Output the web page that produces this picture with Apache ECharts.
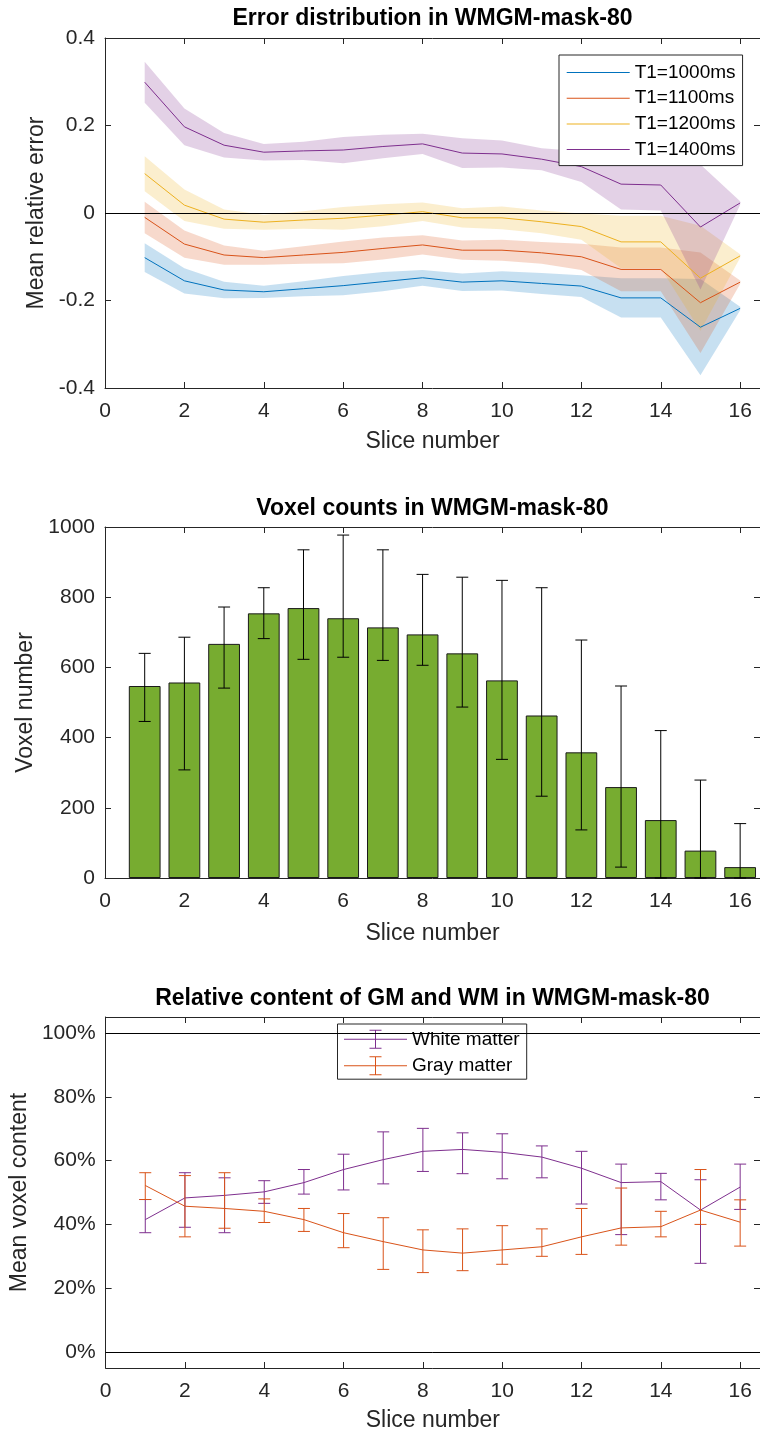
<!DOCTYPE html>
<html><head><meta charset="utf-8">
<script src="https://cdn.jsdelivr.net/npm/echarts@6/dist/echarts.min.js"></script>
<style>html,body{margin:0;padding:0;background:#fff}#c{width:760px;height:1436px}</style>
</head><body><div id="c"></div>
<script>
// ---------- shared ----------
const slices = [1,2,3,4,5,6,7,8,9,10,11,12,13,14,15,16];
const xTicks = [0,2,4,6,8,10,12,14,16];

// ---------- plot 1: error distribution ----------
const t1Names = ['T1=1000ms','T1=1100ms','T1=1200ms','T1=1400ms'];
const err1000 = [-0.102,-0.155,-0.176,-0.180,-0.173,-0.166,-0.157,-0.148,-0.158,-0.155,-0.161,-0.167,-0.194,-0.194,-0.261,-0.218];
const sd1000  = [0.033,0.029,0.019,0.014,0.017,0.022,0.022,0.018,0.020,0.022,0.024,0.025,0.045,0.045,0.110,0.004];
const err1100 = [-0.010,-0.071,-0.096,-0.102,-0.096,-0.090,-0.081,-0.073,-0.085,-0.085,-0.091,-0.100,-0.129,-0.129,-0.205,-0.158];
const sd1100  = [0.036,0.031,0.022,0.016,0.020,0.025,0.025,0.022,0.022,0.024,0.025,0.030,0.050,0.050,0.115,0.004];
const err1200 = [0.090,0.018,-0.014,-0.021,-0.016,-0.012,-0.005,0.003,-0.011,-0.011,-0.020,-0.031,-0.066,-0.066,-0.149,-0.098];
const sd1200  = [0.040,0.036,0.022,0.017,0.020,0.026,0.025,0.021,0.022,0.026,0.026,0.030,0.060,0.060,0.120,0.004];
const err1400 = [0.299,0.197,0.155,0.139,0.142,0.144,0.152,0.158,0.137,0.135,0.123,0.106,0.066,0.064,-0.032,0.023];
const sd1400  = [0.047,0.042,0.028,0.019,0.021,0.030,0.027,0.023,0.034,0.031,0.025,0.035,0.058,0.058,0.143,0.004];
const errTicks = [-0.4,-0.2,0,0.2,0.4];

// ---------- plot 2: voxel counts ----------
const voxelMean  = [547,557,667,754,769,740,714,694,640,563,463,358,259,165,78,31];
const voxelUpper = [640,686,772,827,935,977,935,865,857,848,827,678,547,420,279,155];
const voxelLower = [446,308,541,682,623,629,620,606,487,338,233,137,31,0,0,0];
const voxelTicks = [0,200,400,600,800,1000];

// ---------- plot 3: relative content (percent) ----------
const matterNames = ['White matter','Gray matter'];
const wmMean  = [41.5,48.3,49.1,50.2,53.1,57.2,60.3,62.9,63.5,62.6,61.1,57.6,53.1,53.4,44.5,51.7];
const wmUpper = [47.8,56.2,54.6,53.7,57.2,62.0,69.0,70.1,68.7,68.4,64.6,62.9,58.9,56.0,54.0,58.9];
const wmLower = [37.4,39.1,37.4,46.6,49.5,50.8,52.7,56.6,55.9,54.3,54.6,46.4,36.8,47.7,27.8,44.7];
const gmMean  = [52.2,45.7,45.0,44.1,41.5,37.4,34.6,32.0,31.0,32.0,33.0,36.1,38.9,39.3,44.5,40.7];
const gmUpper = [56.2,55.3,56.2,48.0,45.0,43.4,42.1,38.3,38.6,39.6,38.6,45.0,51.4,44.1,57.2,47.7];
const gmLower = [47.8,36.1,38.8,40.6,37.8,32.7,25.9,24.9,25.5,27.5,30.0,30.6,33.5,36.1,40.0,33.2];
const pctTicks = [0,20,40,60,80,100];

// ---------- styling ----------
const FONT = '"Liberation Sans", Arial, Helvetica, sans-serif';
const AX = '#262626';
const C = {blue:'#0072BD', orange:'#D95319', yellow:'#EDB120', purple:'#7E2F8E', green:'#77AC30'};
const GL = 105, GW = 655, XMAX = 16.5;
const gridDefs = [
  {left:GL, top:38, width:GW, height:350},
  {left:GL, top:527, width:GW, height:351},
  {left:GL, top:1017, width:GW, height:351}
];

function xAxesFor(gi, nameGap) {
  const common = {type:'value', gridIndex:gi, min:0, max:XMAX, splitLine:{show:false},
    axisLine:{show:true, onZero:false, lineStyle:{color:AX, width:1}},
    axisTick:{show:true, inside:true, length:6, customValues:xTicks, lineStyle:{color:AX, width:1}}};
  return [
    Object.assign({}, common, {position:'bottom',
      axisLabel:{show:true, customValues:xTicks, margin:13, color:AX, fontSize:21, fontFamily:FONT},
      name:'Slice number', nameLocation:'middle', nameGap:nameGap,
      nameTextStyle:{color:AX, fontSize:23, fontFamily:FONT}}),
    Object.assign({}, common, {position:'top', axisLabel:{show:false}})
  ];
}
function yAxesFor(gi, min, max, ticks, fmt, name, nameGap) {
  const common = {type:'value', gridIndex:gi, min:min, max:max, splitLine:{show:false},
    axisLine:{show:true, onZero:false, lineStyle:{color:AX, width:1}},
    axisTick:{show:true, inside:true, length:6, customValues:ticks, lineStyle:{color:AX, width:1}}};
  return [
    Object.assign({}, common, {position:'left',
      axisLabel:{show:true, customValues:ticks, margin:10, color:AX, fontSize:21, fontFamily:FONT, formatter:fmt},
      name:name, nameLocation:'middle', nameGap:nameGap,
      nameTextStyle:{color:AX, fontSize:23, fontFamily:FONT}}),
    Object.assign({}, common, {position:'right', axisLabel:{show:false}})
  ];
}

function rgba(hex, a) {
  const n = parseInt(hex.slice(1), 16);
  return 'rgba(' + ((n>>16)&255) + ',' + ((n>>8)&255) + ',' + (n&255) + ',' + a + ')';
}

function bandSeries(mean, sd, color) {
  return {type:'custom', xAxisIndex:0, yAxisIndex:0, silent:true,
    data: slices.map((x,i) => [x, mean[i]-sd[i], mean[i]+sd[i]]),
    encode:{x:0, y:[1,2]},
    renderItem: function(params, api) {
      if (params.dataIndex !== 0) return null;
      const up = slices.map((x,i) => api.coord([x, mean[i]+sd[i]]));
      const lo = slices.map((x,i) => api.coord([x, mean[i]-sd[i]])).reverse();
      return {type:'polygon', shape:{points: up.concat(lo)}, style:{fill: rgba(color, 0.22)}};
    }};
}
function lineSeries(name, mean, color, axisIdx) {
  return {type:'line', name:name, xAxisIndex:axisIdx, yAxisIndex:axisIdx, silent:true,
    data: slices.map((x,i) => [x, mean[i]]), symbol:'none',
    lineStyle:{color:color, width:1}, itemStyle:{color:color}, emphasis:{disabled:true}};
}
function errorBarSeries(lower, upper, color, axisIdx, capHalf) {
  return {type:'custom', xAxisIndex:axisIdx, yAxisIndex:axisIdx, silent:true, z:5,
    data: slices.map((x,i) => [x, lower[i], upper[i]]),
    encode:{x:0, y:[1,2]},
    renderItem: function(params, api) {
      const x = api.value(0);
      const pHi = api.coord([x, api.value(2)]);
      const pLo = api.coord([x, api.value(1)]);
      const st = {stroke:color, lineWidth:1, fill:null};
      return {type:'group', children:[
        {type:'line', shape:{x1:pHi[0], y1:pHi[1], x2:pLo[0], y2:pLo[1]}, style:st},
        {type:'line', shape:{x1:pHi[0]-capHalf, y1:pHi[1], x2:pHi[0]+capHalf, y2:pHi[1]}, style:st},
        {type:'line', shape:{x1:pLo[0]-capHalf, y1:pLo[1], x2:pLo[0]+capHalf, y2:pLo[1]}, style:st}
      ]};
    }};
}
const refLine = (vals) => ({silent:true, symbol:'none', label:{show:false},
  lineStyle:{color:'#000', width:1, type:'solid'}, emphasis:{disabled:true},
  data: vals.map(v => ({yAxis:v}))});

// ---------- series ----------
const series = [];
const p1 = [[err1000, sd1000, C.blue],[err1100, sd1100, C.orange],[err1200, sd1200, C.yellow],[err1400, sd1400, C.purple]];
p1.forEach((d, k) => {
  series.push(bandSeries(d[0], d[1], d[2]));
  series.push(lineSeries(t1Names[k], d[0], d[2], 0));
});
series[series.length-1].markLine = refLine([0]);

const barW = 0.8 * GW / XMAX;
series.push({type:'bar', name:'Voxels', xAxisIndex:2, yAxisIndex:2, silent:true, z:2,
  data: slices.map((x,i) => [x, voxelMean[i]]), barWidth: barW,
  itemStyle:{color:C.green, borderColor:'#1a1a1a', borderWidth:1}});
series.push(errorBarSeries(voxelLower, voxelUpper, '#000', 2, 6));

series.push(lineSeries(matterNames[0], wmMean, C.purple, 4));
series.push(errorBarSeries(wmLower, wmUpper, C.purple, 4, 6));
series.push(lineSeries(matterNames[1], gmMean, C.orange, 4));
series.push(errorBarSeries(gmLower, gmUpper, C.orange, 4, 6));
series[series.length-2].markLine = refLine([0, 100]);

const titleStyle = {fontSize:23, fontWeight:'bold', color:'#000', fontFamily:FONT};
const errIcon = 'path://M0,9H63V10H0Z M31,0H32V19H31Z M25.5,0H37.5V1H25.5Z M25.5,18H37.5V19H25.5Z';

const option = {
  animation:false,
  backgroundColor:'#fff',
  title:[
    {text:'Error distribution in WMGM-mask-80', left:432.5, top:7.5, textAlign:'center', padding:0, textStyle:titleStyle},
    {text:'Voxel counts in WMGM-mask-80', left:432.5, top:497.5, textAlign:'center', padding:0, textStyle:titleStyle},
    {text:'Relative content of GM and WM in WMGM-mask-80', left:432.5, top:987.5, textAlign:'center', padding:0, textStyle:titleStyle}
  ],
  legend:[
    {data: t1Names.map(n => ({name:n, icon:'path://M0,0H63V1H0Z'})), orient:'vertical',
     left:559, top:55, itemWidth:63, itemHeight:1.3, itemGap:6.7, padding:[8,7,6.5,7.7],
     backgroundColor:'#fff', borderColor:AX, borderWidth:1, borderRadius:0, selectedMode:false,
     itemStyle:{borderWidth:0}, textStyle:{fontSize:19, color:'#000', fontFamily:FONT, lineHeight:19}},
    {data: matterNames.map(n => ({name:n, icon:errIcon})), orient:'vertical',
     left:337.5, top:1024, itemWidth:63, itemHeight:19, itemGap:7.4, padding:[5.8,7,4,6.5],
     backgroundColor:'#fff', borderColor:AX, borderWidth:1, borderRadius:0, selectedMode:false,
     itemStyle:{borderWidth:0}, textStyle:{fontSize:19, color:'#000', fontFamily:FONT, lineHeight:19}}
  ],
  grid: gridDefs,
  xAxis: [].concat(xAxesFor(0, 42), xAxesFor(1, 44), xAxesFor(2, 41)),
  yAxis: [].concat(
    yAxesFor(0, -0.4, 0.4, errTicks, v => (v === 0 ? '0' : v.toFixed(1)), 'Mean relative error', 55),
    yAxesFor(1, 0, 1000, voxelTicks, v => String(v), 'Voxel number', 66),
    yAxesFor(2, -5, 105, pctTicks, v => v + '%', 'Mean voxel content', 73.5)
  ),
  series: series
};

const chart = echarts.init(document.getElementById('c'), null, {renderer:'canvas'});
chart.setOption(option);
</script>
</body></html>
